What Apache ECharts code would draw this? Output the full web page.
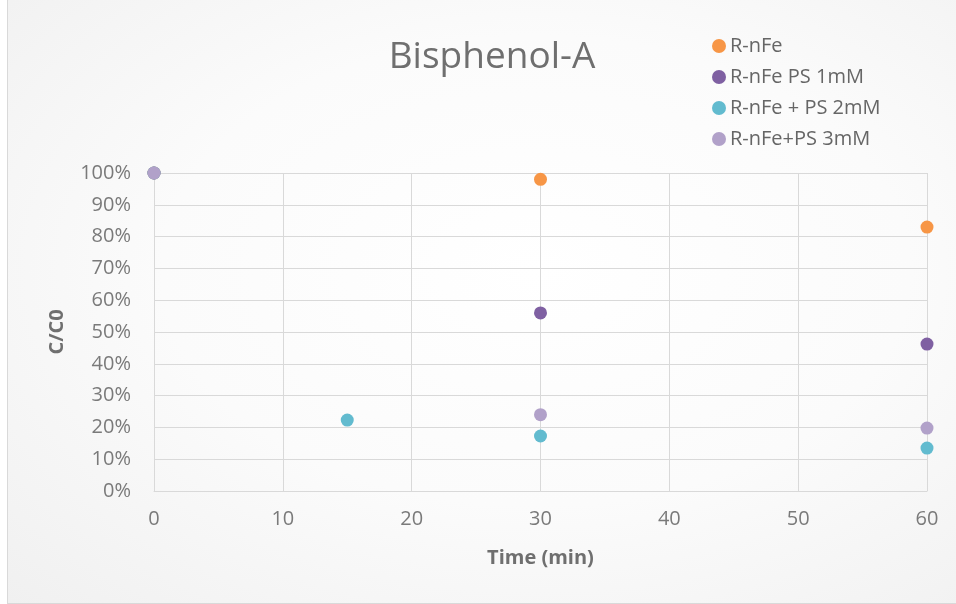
<!DOCTYPE html>
<html><head><meta charset="utf-8">
<script src="https://cdn.jsdelivr.net/npm/echarts@6/dist/echarts.min.js"></script>
<style>
html,body{margin:0;padding:0;background:#fff;}
#wrap{position:absolute;left:7px;top:-2px;width:960px;height:604px;border:1px solid #d9d9d9;
background:radial-gradient(ellipse at 55% 45%, #ffffff 0%, #fbfbfb 50%, #f0f0f0 100%);}
#c{position:absolute;left:0;top:0;width:956px;height:604px;}
</style></head>
<body>
<div id="wrap"></div>
<div id="c"></div>
<script>
const seriesNames = ['R-nFe', 'R-nFe PS 1mM', 'R-nFe + PS 2mM', 'R-nFe+PS 3mM'];
const colors = ['#F79646', '#7F60A2', '#62BBCF', '#B1A1C9'];
const rnfeX = [0, 30, 60];
const rnfeY = [1.00, 0.98, 0.83];
const ps1X = [0, 30, 60];
const ps1Y = [1.00, 0.56, 0.462];
const ps2X = [0, 15, 30, 60];
const ps2Y = [1.00, 0.223, 0.173, 0.135];
const ps3X = [0, 30, 60];
const ps3Y = [1.00, 0.24, 0.198];
const xTicks = [0, 10, 20, 30, 40, 50, 60];

const xs = [rnfeX, ps1X, ps2X, ps3X];
const ys = [rnfeY, ps1Y, ps2Y, ps3Y];
const font = '"Open Sans", "Liberation Sans", sans-serif';
const chart = echarts.init(document.getElementById('c'), null, {renderer: 'canvas'});
chart.setOption({
  backgroundColor: 'transparent',
  animation: false,
  title: {text: 'Bisphenol-A', left: 487, top: 34, textAlign: 'center',
    textStyle: {fontFamily: font, fontSize: 37, fontWeight: 'normal', color: '#6f6f6f', lineHeight: 37}},
  legend: {orient: 'vertical', left: 707, top: 31, itemGap: 11, itemWidth: 14, itemHeight: 14,
    icon: 'circle', data: seriesNames,
    textStyle: {fontFamily: font, fontSize: 20, color: '#666', lineHeight: 20, padding: [0,0,0,-1]}},
  grid: {left: 154, right: 29, top: 173, bottom: 113, containLabel: false},
  xAxis: {type: 'value', min: 0, max: 60, interval: 10,
    name: 'Time (min)', nameLocation: 'middle', nameGap: 57,
    nameTextStyle: {fontFamily: font, fontSize: 20, fontWeight: 'bold', color: '#6f6f6f'},
    axisLine: {show: true, lineStyle: {color: '#d9d9d9', width: 1}},
    axisTick: {show: false},
    axisLabel: {fontFamily: font, fontSize: 20, color: '#7a7a7a', margin: 18,
      formatter: v => xTicks.includes(v) ? String(v) : ''},
    splitLine: {show: true, lineStyle: {color: '#d9d9d9', width: 1}}},
  yAxis: {type: 'value', min: 0, max: 1, interval: 0.1,
    name: 'C/C0', nameLocation: 'middle', nameGap: 87,
    nameTextStyle: {fontFamily: font, fontSize: 20, fontWeight: 'bold', color: '#6f6f6f'},
    axisLine: {show: true, lineStyle: {color: '#d9d9d9', width: 1}},
    axisTick: {show: false},
    axisLabel: {fontFamily: font, fontSize: 20, color: '#7a7a7a', margin: 23,
      formatter: v => Math.round(v * 100) + '%'},
    splitLine: {show: true, lineStyle: {color: '#d9d9d9', width: 1}}},
  series: seriesNames.map((n, i) => ({
    name: n, type: 'scatter', symbol: 'circle', symbolSize: 13,
    itemStyle: {color: colors[i], opacity: 1},
    data: xs[i].map((x, j) => [x, ys[i][j]])
  }))
});
</script>
</body></html>
